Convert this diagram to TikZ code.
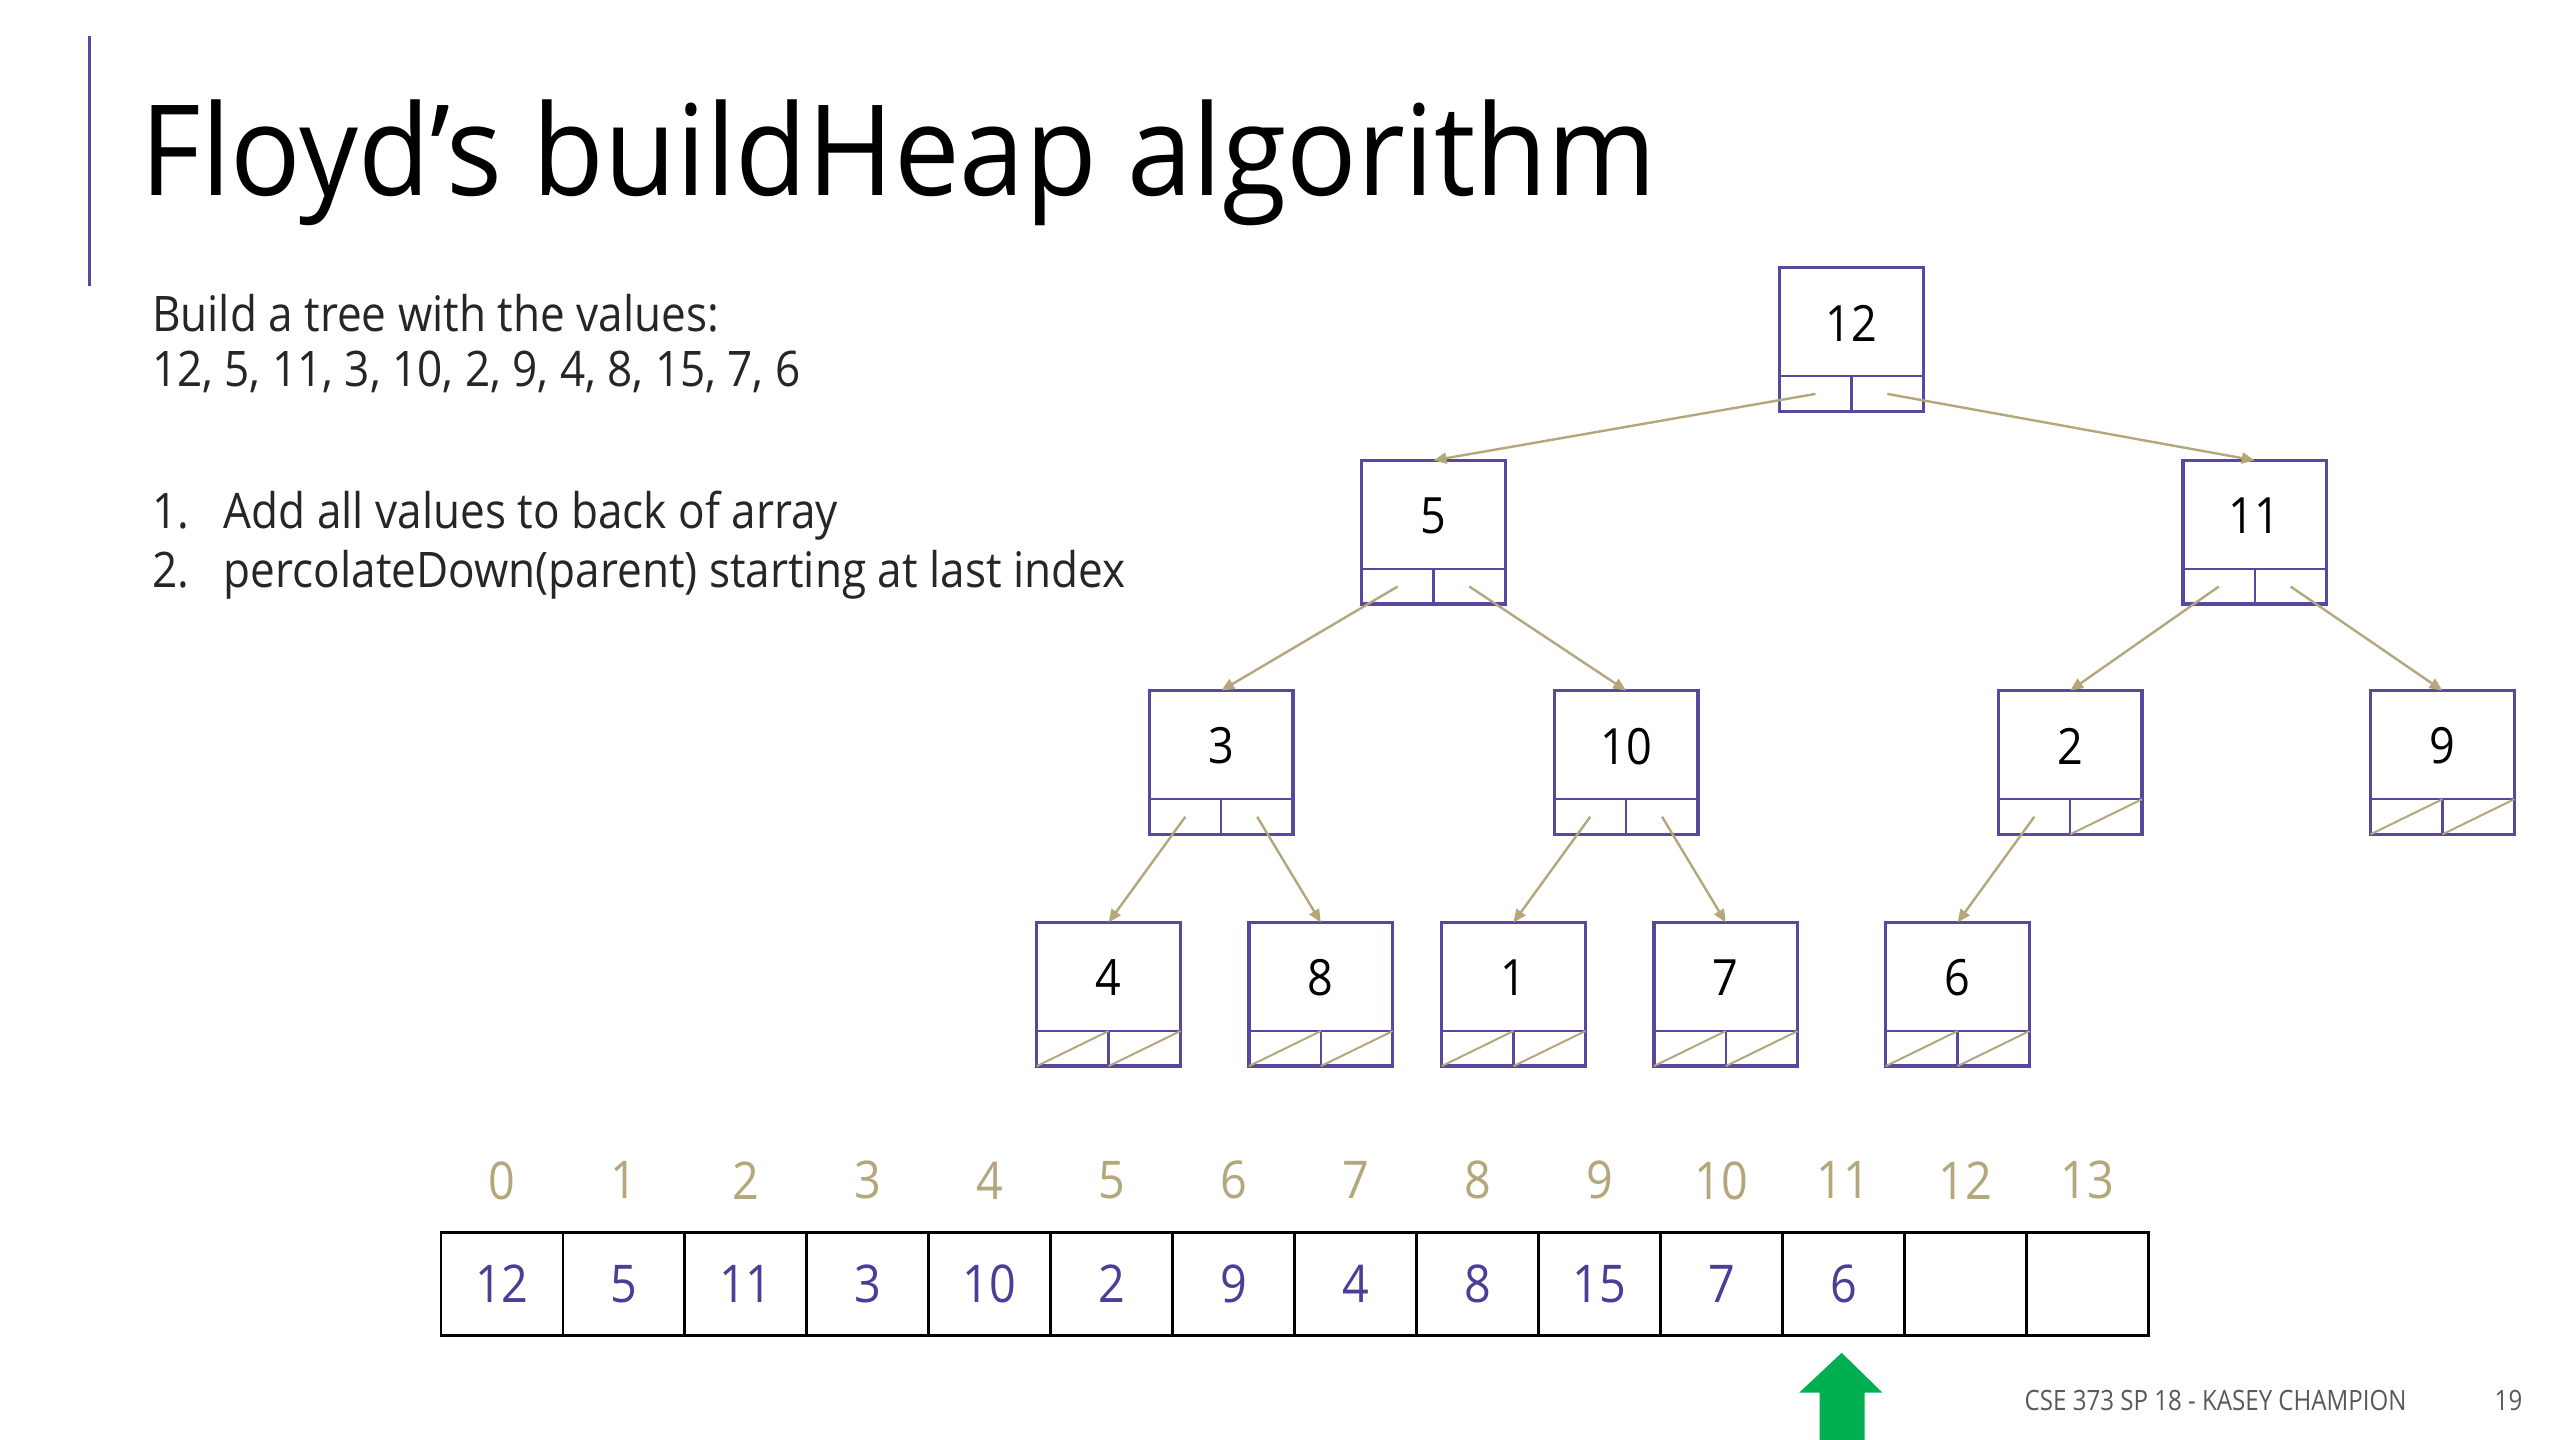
\documentclass[tikz,border=0pt]{standalone}
\usepackage{fontspec}
\setmainfont{Open Sans}[FakeStretch=0.9]
\newfontfamily\titlefont{Open Sans}[FakeStretch=0.93]
\newfontfamily\footfont{Open Sans}[FakeStretch=0.86]
\usetikzlibrary{arrows.meta,calc}
\definecolor{boxpurple}{HTML}{5848A0}
\definecolor{txtpurple}{HTML}{4E3D96}
\definecolor{uwgold}{HTML}{B5A77C}
\definecolor{arrgreen}{HTML}{00B050}
\definecolor{footgray}{HTML}{595959}
\tikzset{
  hbox/.style={draw=boxpurple, line width=3.4pt, minimum width=143.7pt, minimum height=143.7pt, inner sep=0pt, outer sep=0pt, fill=white},
  divline/.style={draw=boxpurple, line width=2.2pt},
  nullline/.style={draw=uwgold, line width=2pt},
  edge/.style={draw=uwgold, line width=2.4pt, -{Triangle[length=13pt,width=11pt]}},
  num/.style={font=\fontsize{50pt}{60pt}\selectfont, text=black, inner sep=0pt},
  cell/.style={draw=black, line width=2.6pt, minimum width=121.98pt, minimum height=102.9pt, inner sep=0pt, outer sep=0pt, text=txtpurple, font=\fontsize{52pt}{62pt}\selectfont},
  idx/.style={text=uwgold, font=\fontsize{52pt}{62pt}\selectfont, inner sep=0pt},
  body/.style={anchor=base west, inner sep=0pt, font=\fontsize{49pt}{60pt}\selectfont, text=black!85},
  foot/.style={inner sep=0pt, text=footgray, font=\footfont\fontsize{28pt}{34pt}\selectfont},
}
\newcommand\heapnode[4]{%
  \node[hbox] (#1) at (#2,#3) {};
  \draw[divline] ($(#1.south west)+(0,-21.5)$) -- ($(#1.south east)+(0,-21.5)$);
  \draw[divline] (#1.south) -- ($(#1.south)+(0,-21.5)$);
  \coordinate (#1L) at ($(#1.south)+(-22,-10.75)$);
  \coordinate (#1R) at ($(#1.south)+(22,-10.75)$);
  \node[num] (#1t) at ($(#1.north)+(0,34)$) {#4};
}
\newcommand\nullL[1]{\draw[nullline] (#1.south west) -- ($(#1.south)+(0,-21.5)$);}
\newcommand\nullR[1]{\draw[nullline] (#1.south) -- ($(#1.south east)+(0,-21.5)$);}
\begin{document}
\begin{tikzpicture}[x=1.63265pt,y=-1.63265pt]
\useasboundingbox[fill=white] (0,0) rectangle (1568,882);
% side bar
\draw[boxpurple, line width=3pt] (55,22) coordinate (barA) -- (55,175) coordinate (barB);
% title
\node[anchor=base west, inner sep=0pt, font=\titlefont\fontsize{126pt}{140pt}\selectfont] (title) at (86,120) {Floyd’s buildHeap algorithm};
% body text
\node[body] (b1) at (93,203) {Build a tree with the values:};
\node[body] (b2) at (93,237) {12, 5, 11, 3, 10, 2, 9, 4, 8, 15, 7, 6};
\node[body] (l1n) at (93,324) {1.};
\node[body] (l1) at (137,324) {Add all values to back of array};
\node[body] (l2n) at (93,360) {2.};
\node[body] (l2) at (137,360) {percolateDown(parent) starting at last index};
% tree
\heapnode{n12}{1134}{208}{12}
\heapnode{n5}{878}{326}{5}
\heapnode{n11}{1381}{326}{11}
\heapnode{n3}{748}{467}{3}
\heapnode{n10}{996}{467}{10}
\heapnode{n2}{1268}{467}{2}
\heapnode{n9}{1496}{467}{9}
\heapnode{n4}{679}{609}{4}
\heapnode{n8}{809}{609}{8}
\heapnode{n1}{927}{609}{1}
\heapnode{n7}{1057}{609}{7}
\heapnode{n6}{1199}{609}{6}
\nullR{n2}
\foreach \n in {n9,n4,n8,n1,n7,n6}{\nullL{\n}\nullR{\n}}
\draw[edge] (n12L) -- (n5.north);
\draw[edge] (n12R) -- (n11.north);
\draw[edge] (n5L) -- (n3.north);
\draw[edge] (n5R) -- (n10.north);
\draw[edge] (n11L) -- (n2.north);
\draw[edge] (n11R) -- (n9.north);
\draw[edge] (n3L) -- (n4.north);
\draw[edge] (n3R) -- (n8.north);
\draw[edge] (n10L) -- (n1.north);
\draw[edge] (n10R) -- (n7.north);
\draw[edge] (n2L) -- (n6.north);
% array
\foreach \v [count=\i from 0] in {12,5,11,3,10,2,9,4,8,15,7,6,{},{}}{
  \node[cell] (a\i) at ({270+74.714*(\i+0.5)},786.5) {\v};
  \node[idx] (i\i) at ({270+74.714*(\i+0.5)},723) {\i};
}
% green arrow
\fill[arrgreen] (1128,828.6) -- (1153,853) -- (1142,853) -- (1142,882) -- (1114.5,882) -- (1114.5,853) -- (1102,853) -- cycle;
% footer
\node[foot, anchor=base west] (foot) at (1240,864) {CSE 373 SP 18 - KASEY CHAMPION};
\node[foot, anchor=base east] (page) at (1545,864) {19};
\end{tikzpicture}
\end{document}
